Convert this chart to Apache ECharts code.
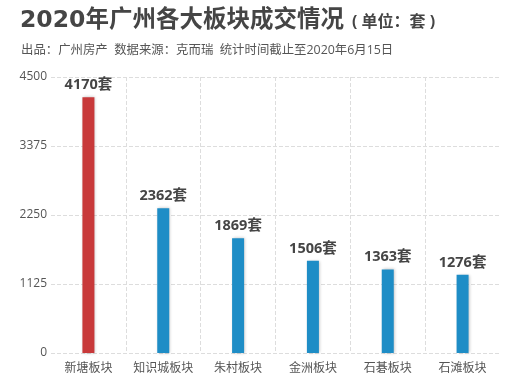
<!DOCTYPE html>
<html><head><meta charset="utf-8">
<script src="https://cdn.jsdelivr.net/npm/echarts@6/dist/echarts.min.js"></script>
<style>html,body{margin:0;padding:0;background:#fff}#c{width:532px;height:380px}</style>
</head><body><div id="c"></div>
<script>
const categories = ['新塘板块','知识城板块','朱村板块','金洲板块','石碁板块','石滩板块'];
const values = [4170, 2362, 1869, 1506, 1363, 1276];
const barColors = ['#c8393a','#1e8dc6','#1e8dc6','#1e8dc6','#1e8dc6','#1e8dc6'];
const yTicks = [0, 1125, 2250, 3375, 4500];
const unit = '套';

const F = '"Open Sans","Noto Sans CJK SC",sans-serif';
const FW = '"DejaVu Sans","Noto Sans CJK SC",sans-serif';
const chart = echarts.init(document.getElementById('c'), null, {renderer:'canvas'});
chart.setOption({
  animation:false,
  backgroundColor:'#fff',
  title:[{
    left:15, top:4,
    text:'{a|2020年广州各大板块成交情况}{b|( 单位：套 )}',
    textStyle:{rich:{
      a:{fontSize:23.5,fontWeight:'bold',color:'#454545',fontFamily:FW},
      b:{fontSize:16,fontWeight:'bold',color:'#454545',fontFamily:F,padding:[4,0,0,8]}
    }}
  },{
    left:16, top:39,
    text:'出品：广州房产  数据来源：克而瑞  统计时间截止至2020年6月15日',
    textStyle:{fontSize:12.4,fontWeight:'normal',color:'#555',fontFamily:F}
  }],
  grid:{left:51,right:32,top:77,bottom:27,containLabel:false},
  xAxis:{
    type:'category', data:categories,
    axisLine:{show:false}, axisTick:{show:false},
    axisLabel:{interval:0,color:'#555',fontSize:12,fontFamily:F,margin:10},
    splitLine:{show:true,interval:0,showMinLine:false,showMaxLine:false,lineStyle:{type:'dashed',color:'#ddd'}}
  },
  yAxis:{
    type:'value', min:yTicks[0], max:yTicks[yTicks.length-1], interval:yTicks[1]-yTicks[0],
    axisLine:{show:false}, axisTick:{show:false},
    axisLabel:{color:'#555',fontSize:12,fontFamily:F,margin:4,formatter:v=>String(v)},
    splitLine:{lineStyle:{type:'dashed',color:'#ddd'}}
  },
  series:[{
    type:'bar', barWidth:12,
    data:values.map((v,i)=>({value:v,itemStyle:{color:barColors[i]}})),
    itemStyle:{shadowColor:'rgba(0,0,0,0.25)',shadowBlur:3,shadowOffsetX:1},
    label:{show:true,position:'top',distance:5,formatter:p=>p.value+unit,
      fontSize:14.5,fontWeight:'bold',color:'#454545',fontFamily:F}
  }]
});
</script></body></html>
